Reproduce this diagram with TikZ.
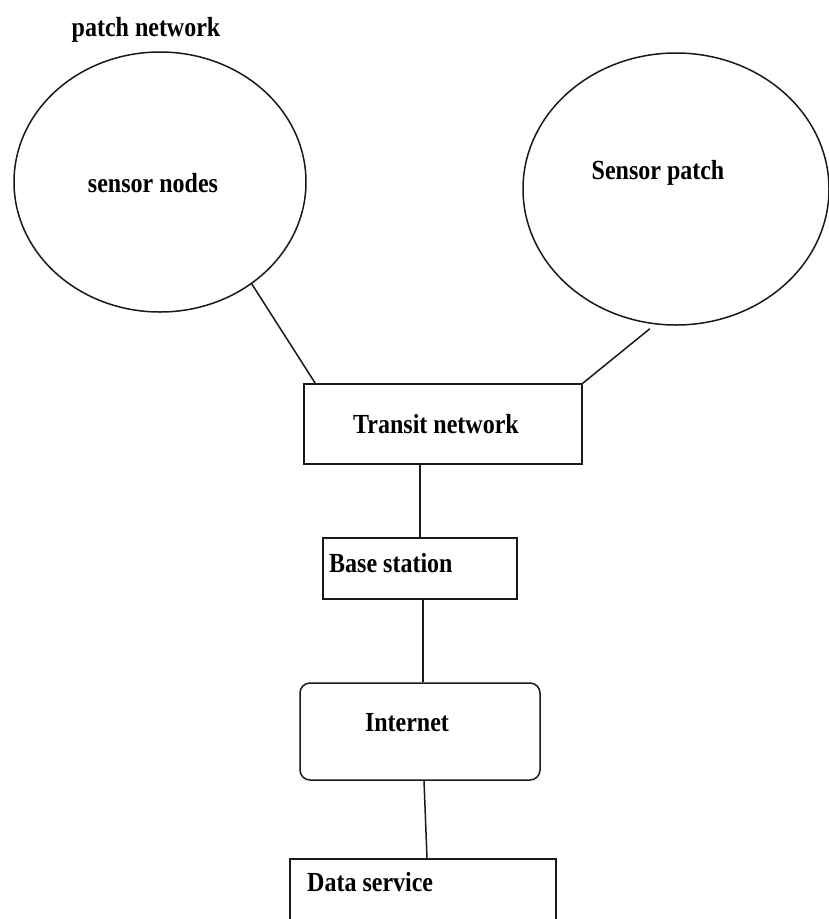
\documentclass[tikz,border=0pt]{standalone}
\usepackage{fontspec}
\usepackage{graphicx}
\setmainfont{Liberation Serif}
\usetikzlibrary{shapes.geometric,calc}
\tikzset{
  lbl/.style={inner sep=0pt, font=\bfseries\fontsize{24}{28}\selectfont},
  line/.style={line width=1.5pt, draw=black!90},
  ell/.style={ellipse, draw=black!90, line width=1.5pt, inner sep=0pt},
  box/.style={rectangle, draw=black!90, line width=1.5pt, inner sep=0pt}
}
\newcommand{\tx}[1]{\scalebox{1}[1.15]{#1}}
\begin{document}
\begin{tikzpicture}[x=1pt,y=-1pt]
\fill[white] (0,0) rectangle (829,919);
\clip (0,0) rectangle (829,919);
% ellipses
\node[ell, minimum width=292pt, minimum height=260pt] (sn) at (160,182) {};
\node[ell, minimum width=306pt, minimum height=272pt] (sp) at (676,189) {};
% boxes
\node[box, minimum width=278pt, minimum height=80pt] (tr) at (443,424) {};
\node[box, minimum width=194pt, minimum height=61pt] (bs) at (420,568.5) {};
\node[box, rounded corners=10pt, minimum width=240pt, minimum height=97pt] (in) at (420,731.5) {};
\node[box, minimum width=266pt, minimum height=100pt] (ds) at (423,909) {};
% texts
\node[lbl] (t1) at (146,30) {\tx{patch network}};
\node[lbl] (t2) at (153,183) {\tx{sensor nodes}};
\node[lbl] (t3) at (658,173) {\tx{Sensor patch}};
\node[lbl] (t4) at (436,424) {\tx{Transit network}};
\node[lbl, anchor=west] (t5) at (329,563) {\tx{Base station}};
\node[lbl] (t6) at (407,723) {\tx{Internet}};
\node[lbl, anchor=west] (t7) at (307,882) {\tx{Data service}};
% connectors
\draw[line] (sn.-48) -- ($(tr.north west)+(12,0)$);
\coordinate (spe) at ($(sp.-101)+(0,5)$);
\draw[line] (spe) -- (tr.north east);
\draw[line] (tr.south -| bs.north) -- (bs.north);
\draw[line] ($(bs.south)+(3,0)$) -- ($(in.north)+(3,0)$);
\draw[line] ($(in.south)+(4,0)$) -- ($(ds.north)+(4,0)$);
\end{tikzpicture}
\end{document}
